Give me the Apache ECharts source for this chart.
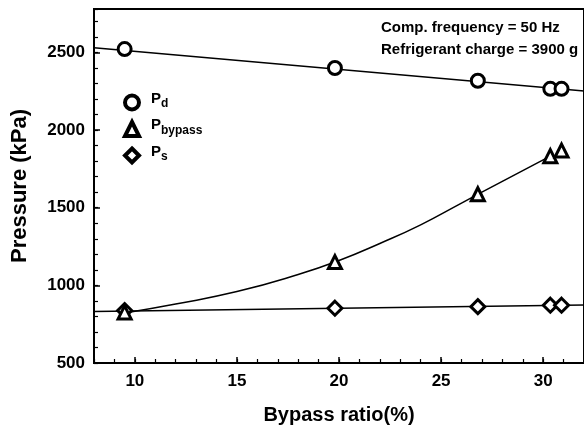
<!DOCTYPE html>
<html>
<head>
<meta charset="utf-8">
<script src="https://cdn.jsdelivr.net/npm/echarts@6/dist/echarts.min.js"></script>
<style>
  html, body { margin: 0; padding: 0; background: #fff; }
  #chart { width: 584px; height: 430px; }
</style>
</head>
<body>
<div id="chart"></div>
<script>
// 数据
var bypassRatio = [9.5, 19.8, 26.8, 30.35, 30.9];
var pd = [2522, 2400, 2318, 2266, 2266];
var pBypass = [826, 1150, 1587, 1832, 1868];
var ps = [838, 853, 863, 872, 872];

// 拟合曲线
var pdFitX = [8, 32];
var pdFitY = [2530, 2252];
var psFitX = [8, 32];
var psFitY = [832, 873];
var bypassFitX = [9.5, 12, 15, 18, 20, 22, 24, 26, 28, 30.35];
var bypassFitY = [822, 880, 960, 1070, 1160, 1270, 1390, 1530, 1670, 1832];

var xLabels = [10, 15, 20, 25, 30];
var yLabels = [500, 1000, 1500, 2000, 2500];

var FONT = 'Liberation Sans';

function pairs(xs, ys) {
	return xs.map(function (x, i) { return [x, ys[i]]; });
}
function plain(v) { return String(v); }

var markerStyle = {
	color: '#fff',
	borderColor: '#000',
	borderWidth: 3,
	opacity: 1
};
var fitStyle = { color: '#000', width: 1.5 };

var Chart = echarts.init(document.getElementById('chart'));
var option = {
	animation: false,
	title: {
		text: 'Comp. frequency = 50 Hz\nRefrigerant charge = 3900 g',
		left: 376,
		top: 12,
		textStyle: {
			fontFamily: FONT,
			fontSize: 15,
			fontWeight: 'bold',
			color: '#000',
			lineHeight: 22
		}
	},
	legend: {
		orient: 'vertical',
		left: 118,
		top: 86,
		itemWidth: 14,
		itemHeight: 14,
		itemGap: 6,
		data: [
			{ name: 'Pd', icon: 'circle' },
			{ name: 'Pbypass', icon: 'triangle' },
			{ name: 'Ps', icon: 'diamond' }
		],
		itemStyle: { color: '#fff', borderColor: '#000', borderWidth: 4, opacity: 1 },
		formatter: function (n) {
			return '{m|P}{s|' + n.slice(1) + '}';
		},
		textStyle: {
			padding: [0, 0, 0, 7],
			rich: {
				m: { fontFamily: FONT, fontSize: 15, fontWeight: 'bold', color: '#000', verticalAlign: 'bottom', lineHeight: 15, padding: [0, 0, 4, 0] },
				s: { fontFamily: FONT, fontSize: 12, fontWeight: 'bold', color: '#000', verticalAlign: 'bottom', lineHeight: 14 }
			}
		}
	},
	grid: {
		left: 94,
		right: -2,
		top: 9,
		bottom: 67,
		show: true,
		borderColor: '#000',
		borderWidth: 2,
		backgroundColor: 'transparent'
	},
	xAxis: [{
		type: 'value',
		min: 8,
		max: 32,
		name: 'Bypass ratio(%)',
		nameLocation: 'middle',
		nameGap: 42,
		nameTextStyle: { fontFamily: FONT, fontSize: 20, fontWeight: 'bold', color: '#000' },
		axisLine: { show: true, lineStyle: { color: '#000', width: 2 } },
		axisTick: { show: true, inside: true, length: 6, customValues: xLabels, lineStyle: { color: '#000', width: 1.5 } },
		axisLabel: { customValues: xLabels, formatter: plain, margin: 10, fontFamily: FONT, fontSize: 17, fontWeight: 'bold', color: '#000' },
		splitLine: { show: false }
	}, {
		type: 'value',
		min: 8,
		max: 32,
		interval: 1,
		position: 'bottom',
		axisLine: { show: false },
		axisTick: { show: true, inside: true, length: 4, lineStyle: { color: '#000', width: 1.2 } },
		axisLabel: { show: false },
		splitLine: { show: false }
	}],
	yAxis: [{
		type: 'value',
		min: 500,
		max: 2780,
		name: 'Pressure (kPa)',
		nameLocation: 'middle',
		nameGap: 63,
		nameTextStyle: { fontFamily: FONT, fontSize: 22, fontWeight: 'bold', color: '#000' },
		axisLine: { show: true, lineStyle: { color: '#000', width: 2 } },
		axisTick: { show: true, inside: true, length: 6, customValues: yLabels, lineStyle: { color: '#000', width: 1.5 } },
		axisLabel: { customValues: yLabels, formatter: plain, margin: 9, fontFamily: FONT, fontSize: 17, fontWeight: 'bold', color: '#000' },
		splitLine: { show: false }
	}, {
		type: 'value',
		min: 500,
		max: 2780,
		interval: 100,
		position: 'left',
		axisLine: { show: false },
		axisTick: { show: true, inside: true, length: 4, lineStyle: { color: '#000', width: 1.2 } },
		axisLabel: { show: false },
		splitLine: { show: false }
	}],
	series: [{
		name: 'Pd fit',
		type: 'line',
		data: pairs(pdFitX, pdFitY),
		showSymbol: false,
		lineStyle: fitStyle,
		z: 2
	}, {
		name: 'Pbypass fit',
		type: 'line',
		smooth: true,
		data: pairs(bypassFitX, bypassFitY),
		showSymbol: false,
		lineStyle: fitStyle,
		z: 2
	}, {
		name: 'Ps fit',
		type: 'line',
		data: pairs(psFitX, psFitY),
		showSymbol: false,
		lineStyle: fitStyle,
		z: 2
	}, {
		name: 'Pd',
		type: 'scatter',
		symbol: 'circle',
		symbolSize: 13,
		data: pairs(bypassRatio, pd),
		itemStyle: markerStyle,
		z: 3
	}, {
		name: 'Ps',
		type: 'scatter',
		symbol: 'diamond',
		symbolSize: 14,
		data: pairs(bypassRatio, ps),
		itemStyle: markerStyle,
		z: 3
	}, {
		name: 'Pbypass',
		type: 'scatter',
		symbol: 'triangle',
		symbolSize: 13,
		data: pairs(bypassRatio, pBypass),
		itemStyle: markerStyle,
		z: 4
	}]
};
Chart.setOption(option);
</script>
</body>
</html>
